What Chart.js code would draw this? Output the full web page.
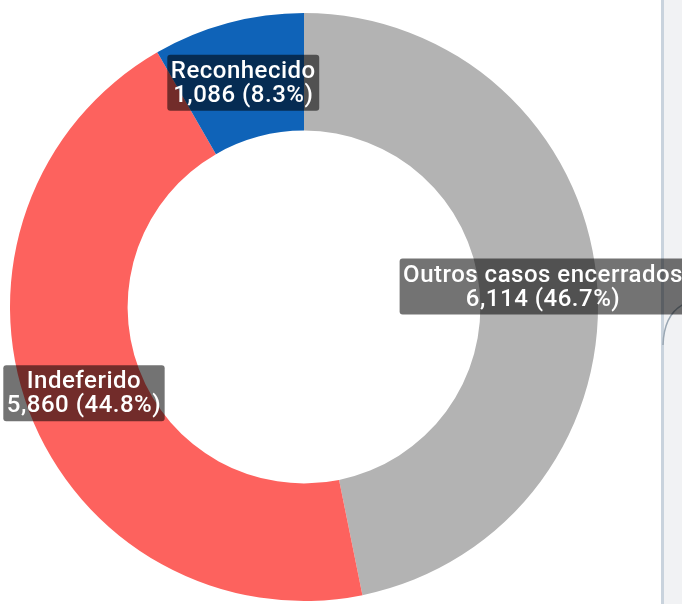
<!DOCTYPE html>
<html>
<head>
<meta charset="utf-8">
<script src="https://cdn.jsdelivr.net/npm/chart.js@4/dist/chart.umd.min.js"></script>
<style>
  html, body { margin: 0; padding: 0; background: #ffffff; }
  #wrap { position: relative; width: 682px; height: 604px; }
</style>
</head>
<body>
<div id="wrap"><canvas id="c" width="682" height="604"></canvas></div>
<script>
// Case outcomes
const categories = ['Outros casos encerrados', 'Indeferido', 'Reconhecido'];
const caseCounts = [6114, 5860, 1086];
const caseShares = [46.7, 44.8, 8.3];   // percent of all cases
const sliceColors = ['#b3b3b3', '#fd625e', '#0f63b8'];

const fmtNum = new Intl.NumberFormat('en-US');

// Side panel edge at the right of the canvas
const sidePanel = {
  id: 'sidePanel',
  beforeDraw(chart) {
    const ctx = chart.ctx;
    ctx.save();
    ctx.fillStyle = '#f1f2f4';
    ctx.fillRect(664, 0, chart.width - 664, chart.height);
    ctx.fillStyle = '#c9d3dd';
    ctx.fillRect(661, 0, 3, chart.height);
    ctx.strokeStyle = '#9aa7b3';
    ctx.lineWidth = 1.5;
    ctx.beginPath();
    ctx.moveTo(663, 345);
    ctx.quadraticCurveTo(664, 314, 684, 304);
    ctx.stroke();
    ctx.restore();
  }
};

// Value labels in dark translucent boxes at each arc's centroid
const arcLabels = {
  id: 'arcLabels',
  afterDatasetsDraw(chart) {
    const ctx = chart.ctx;
    const ds = chart.data.datasets[0];
    const meta = chart.getDatasetMeta(0);
    ctx.save();
    ctx.font = '500 24px Roboto, "DejaVu Sans Condensed", sans-serif';
    ctx.letterSpacing = '0.5px';
    ctx.textAlign = 'center';
    ctx.textBaseline = 'middle';
    const lineH = 24;
    meta.data.forEach((arc, i) => {
      const pos = arc.tooltipPosition();
      const cx = pos.x + (i === 0 ? 5 : 0);
      const cy = pos.y + 3;
      const lines = [chart.data.labels[i], fmtNum.format(ds.data[i]) + ' (' + caseShares[i].toFixed(1) + '%)'];
      const w = Math.max(...lines.map(t => ctx.measureText(t).width)) + 7;
      const h = lines.length * lineH + 8;
      ctx.fillStyle = 'rgba(0,0,0,0.55)';
      ctx.beginPath();
      ctx.roundRect(cx - w / 2, cy - h / 2, w, h, 3);
      ctx.fill();
      ctx.fillStyle = '#ffffff';
      lines.forEach((t, k) => {
        ctx.fillText(t, cx, cy + (k - (lines.length - 1) / 2) * lineH + 1);
      });
    });
    ctx.restore();
  }
};

new Chart(document.getElementById('c'), {
  type: 'doughnut',
  data: {
    labels: categories,
    datasets: [{
      data: caseCounts,
      backgroundColor: sliceColors,
      borderWidth: 0,
      hoverOffset: 0
    }]
  },
  options: {
    responsive: false,
    animation: false,
    cutout: '60%',
    layout: { padding: { left: 10, right: 84, top: 13, bottom: 3 } },
    plugins: {
      legend: { display: false },
      tooltip: { enabled: false }
    }
  },
  plugins: [sidePanel, arcLabels]
});
</script>
</body>
</html>
